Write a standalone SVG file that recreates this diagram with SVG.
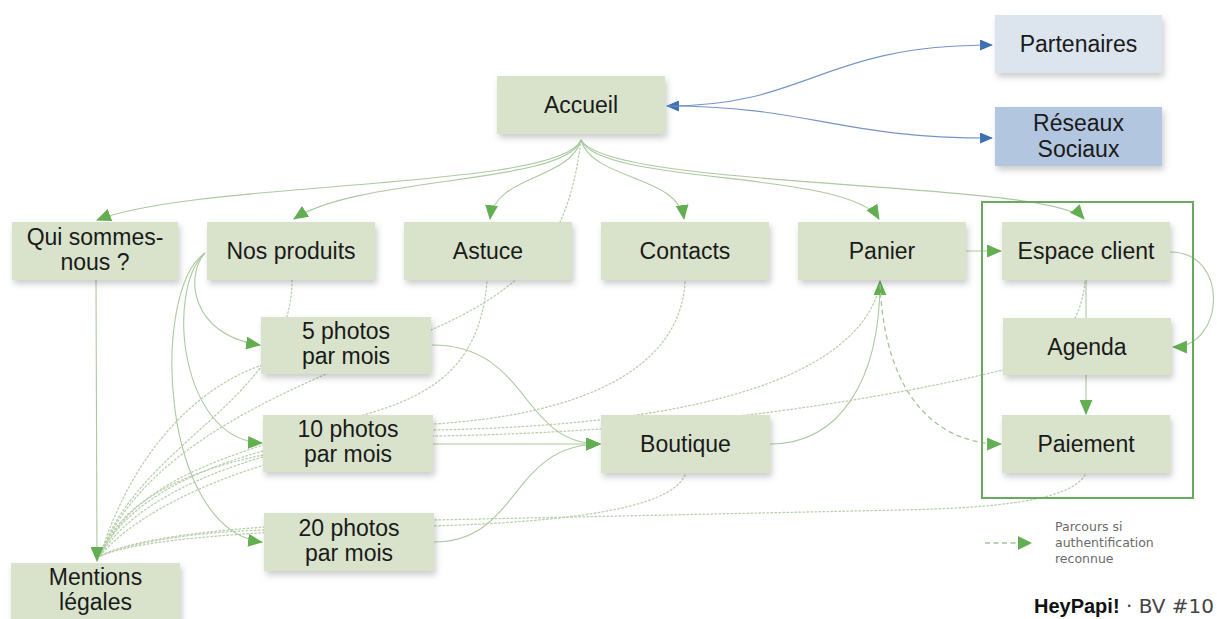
<svg xmlns="http://www.w3.org/2000/svg" width="1217" height="619" viewBox="0 0 1217 619">
<style>
.n rect{fill:#d9e3cb;filter:url(#sh)}
.n text,.b text{font-family:"Liberation Sans",Arial,sans-serif;font-size:23px;fill:#1a1a1a;text-anchor:middle}
.g{fill:none;stroke:#acc9a0;stroke-width:1.1}
.d{fill:none;stroke:#b9d0ad;stroke-width:1.3;stroke-dasharray:1.6 2.4;stroke-linecap:round}
.ds{fill:none;stroke:#a3c696;stroke-width:1.3;stroke-dasharray:5 3.5}
.bl{fill:none;stroke:#7594c6;stroke-width:1.2}
.ga{marker-end:url(#ag)}
.lg{font-family:"DejaVu Sans",sans-serif;font-size:12.5px;fill:#6b6b6b}
</style>
<defs>
<filter id="sh" x="-10%" y="-15%" width="125%" height="150%"><feDropShadow dx="2" dy="4" stdDeviation="3" flood-color="#000" flood-opacity="0.2"/></filter>
<marker id="ag" viewBox="0 0 14 12" refX="13" refY="6" markerWidth="15" markerHeight="13" markerUnits="userSpaceOnUse" orient="auto"><path d="M0,0 L14,6 L0,12 z" fill="#62ae51"/></marker>
<marker id="ab" viewBox="0 0 14 12" refX="13" refY="6" markerWidth="13" markerHeight="11" markerUnits="userSpaceOnUse" orient="auto-start-reverse"><path d="M0,0 L14,6 L0,12 z" fill="#3d6fb4"/></marker>
</defs>
<rect width="1217" height="619" fill="#ffffff"/>

<g id="connectors">
<path class="d" d="M581,140 C570,230 540,280 440,326 C330,375 150,430 100,556"/>
<path class="d" d="M292,280 C292,400 140,440 100,556"/>
<path class="d" d="M487,282 C480,360 440,390 380,410 C250,450 140,470 100,556"/>
<path class="d" d="M685,282 C680,370 580,415 433,424 C300,432 140,470 100,556"/>
<path class="d" d="M880,285 C860,370 720,425 433,430 C300,435 145,480 100,556"/>
<path class="d" d="M1085,282 C1080,330 1050,360 1003,370 C900,395 700,432 433,436 C300,440 150,495 100,556"/>
<path class="d" d="M685,475 C670,510 560,522 433,526 C300,530 150,535 100,556"/>
<path class="d" d="M1085,475 C1070,500 1000,508 900,510 L433,520 C300,523 150,530 100,556"/>
<path class="d" d="M262,365 C190,390 130,460 100,556"/>
<path class="d" d="M263,455 C190,470 120,500 100,556"/>
<path class="d" d="M264,530 C200,532 140,540 100,556"/>

<path class="bl" d="M667,106 C810,106 820,45 992,45" marker-start="url(#ab)" marker-end="url(#ab)"/>
<path class="bl" d="M667,106 C810,106 835,138 992,138" marker-end="url(#ab)"/>

<path class="g ga" d="M581,140 C560,190 200,180 97,220"/>
<path class="g ga" d="M581,140 C565,185 360,175 294,219"/>
<path class="g ga" d="M581,140 C570,180 495,175 490,219"/>
<path class="g ga" d="M581,140 C592,180 678,175 684,219"/>
<path class="g ga" d="M581,140 C600,185 850,170 879,219"/>
<path class="g ga" d="M581,140 C610,190 1050,180 1084,219"/>

<path class="g ga" d="M96,280 L97,561"/>

<path class="g ga" d="M205,253 C185,275 190,335 260,345"/>
<path class="g ga" d="M205,253 C165,290 180,440 262,443"/>
<path class="g ga" d="M205,253 C150,290 160,530 262,542"/>

<path class="g ga" d="M432,345 C530,345 520,444 600,444"/>
<path class="g ga" d="M433,444 L600,444"/>
<path class="g ga" d="M434,542 C520,542 510,444 600,444"/>

<path class="g ga" d="M770,444 C840,444 880,380 880,281"/>
<path class="g ga" d="M966,251 L1001,251"/>
<path class="ds ga" d="M880,284 C885,400 940,444 1001,444"/>
<path class="g ga" d="M1170,252 C1230,252 1225,347 1173,347"/>
<path class="g" d="M1086,280 L1086,318"/>
<path class="g ga" d="M1086,375 L1086,414"/>
</g>

<g id="frame"><rect x="982" y="202" width="211" height="296" fill="none" stroke="#6aaa5e" stroke-width="2"/></g>

<g id="accueil" class="n"><rect x="497" y="76" width="168" height="58"/><text x="581" y="113">Accueil</text></g>
<g id="partenaires" class="b"><rect x="995" y="15" width="167" height="58" fill="#dce4ee" filter="url(#sh)"/><text x="1078.5" y="52">Partenaires</text></g>
<g id="reseaux" class="b"><rect x="995" y="107" width="167" height="59" fill="#b3c6df" filter="url(#sh)"/><text x="1078.5" y="131">Réseaux</text><text x="1078.5" y="157">Sociaux</text></g>

<g id="qui" class="n"><rect x="12" y="222" width="166" height="58"/><text x="95" y="245">Qui sommes-</text><text x="95" y="270">nous ?</text></g>
<g id="produits" class="n"><rect x="207" y="222" width="168" height="58"/><text x="291" y="259">Nos produits</text></g>
<g id="astuce" class="n"><rect x="404" y="222" width="168" height="58"/><text x="488" y="259">Astuce</text></g>
<g id="contacts" class="n"><rect x="601" y="222" width="168" height="58"/><text x="685" y="259">Contacts</text></g>
<g id="panier" class="n"><rect x="798" y="222" width="168" height="58"/><text x="882" y="259">Panier</text></g>
<g id="espace" class="n"><rect x="1002" y="222" width="168" height="58"/><text x="1086" y="259">Espace client</text></g>
<g id="agenda" class="n"><rect x="1003" y="318" width="168" height="57"/><text x="1087" y="355">Agenda</text></g>
<g id="paiement" class="n"><rect x="1002" y="415" width="168" height="58"/><text x="1086" y="452">Paiement</text></g>
<g id="p5" class="n"><rect x="261" y="317" width="170" height="57"/><text x="346" y="339">5 photos</text><text x="346" y="364">par mois</text></g>
<g id="p10" class="n"><rect x="263" y="415" width="170" height="57"/><text x="348" y="437">10 photos</text><text x="348" y="462">par mois</text></g>
<g id="p20" class="n"><rect x="264" y="513" width="170" height="58"/><text x="349" y="536">20 photos</text><text x="349" y="561">par mois</text></g>
<g id="boutique" class="n"><rect x="601" y="415" width="169" height="58"/><text x="685.5" y="452">Boutique</text></g>
<g id="mentions" class="n"><rect x="11" y="563" width="169" height="62"/><text x="95.5" y="585">Mentions</text><text x="95.5" y="610">légales</text></g>

<g id="legend">
<path class="ds" d="M985,543 L1019,543"/>
<path d="M1018,536 L1032,543 L1018,550 z" fill="#62ae51"/>
<text class="lg" x="1055" y="531">Parcours si</text>
<text class="lg" x="1055" y="547">authentification</text>
<text class="lg" x="1055" y="563">reconnue</text>
</g>
<g id="footer"><text x="1214" y="613" text-anchor="end" font-size="20" fill="#222"><tspan font-family="Liberation Sans,Arial,sans-serif" font-weight="bold" fill="#111">HeyPapi!</tspan><tspan font-family="DejaVu Sans,sans-serif" fill="#444"> · BV #10</tspan></text></g>
</svg>
